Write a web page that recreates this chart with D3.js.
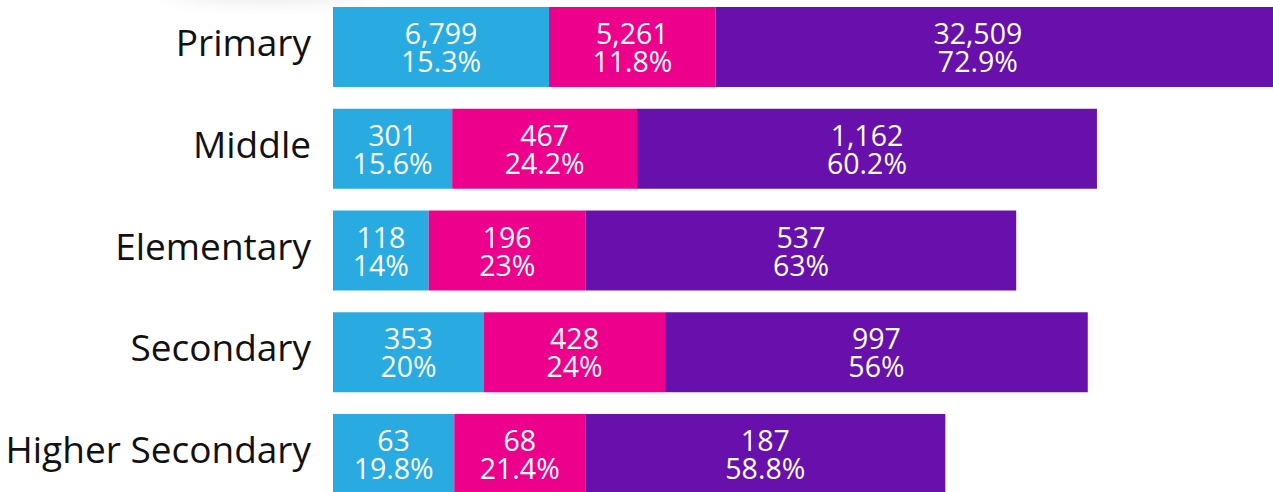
<!DOCTYPE html>
<html>
<head>
<meta charset="utf-8">
<script src="https://cdn.jsdelivr.net/npm/d3@7"></script>
<style>
  html, body { margin: 0; padding: 0; background: #fff; overflow: hidden; }
  svg { display: block; }
  .cat { font-family: "Open Sans", sans-serif; font-size: 37px; fill: #111; }
  .val { font-family: "Open Sans", sans-serif; font-size: 28.5px; fill: #fff; }
</style>
</head>
<body>
<svg id="chart"></svg>
<script>
var categories = ["Primary", "Middle", "Elementary", "Secondary", "Higher Secondary"];
var seriesKeys = ["a", "b", "c"];
var colors = ["#29abe2", "#ec008c", "#6810ab"];

// counts
var valuesA = [6799, 301, 118, 353, 63];
var valuesB = [5261, 467, 196, 428, 68];
var valuesC = [32509, 1162, 537, 997, 187];

// share of row, in %
var pctA = [15.3, 15.6, 14, 20, 19.8];
var pctB = [11.8, 24.2, 23, 24, 21.4];
var pctC = [72.9, 60.2, 63, 56, 58.8];

var width = 1273;
var height = 492;
var left = 333;
var labelEdge = 1240;

var svg = d3.select("#chart").attr("width", width).attr("height", height);

// faint shadow from the card above
var defs = svg.append("defs");
defs.append("filter").attr("id", "blur")
    .attr("x", "-50%").attr("y", "-50%").attr("width", "200%").attr("height", "200%")
    .append("feGaussianBlur").attr("stdDeviation", 12);
svg.append("ellipse")
    .attr("cx", 270).attr("cy", -22).attr("rx", 110).attr("ry", 18)
    .attr("fill", "#000").attr("opacity", 0.14)
    .attr("filter", "url(#blur)");

var rows = categories.map(function(c, i) {
    return {
        cat: c,
        a: pctA[i], b: pctB[i], c: pctC[i],
        counts: [valuesA[i], valuesB[i], valuesC[i]],
        total: valuesA[i] + valuesB[i] + valuesC[i]
    };
});

var stacked = d3.stack().keys(seriesKeys)(rows);

var y = d3.scaleBand()
    .domain(categories)
    .range([7, 494])
    .paddingInner(0.214)
    .paddingOuter(0);

// bar length grows with row total
var len = d3.scalePow().exponent(0.35)
    .domain([0, d3.max(rows, function(d) { return d.total; })])
    .range([440, 1412]);

function xFor(row) {
    return d3.scaleLinear().domain([0, 100]).range([left, left + len(row.total)]);
}

var fmtCount = d3.format(",");
function fmtPct(p) {
    return (Number.isInteger(p) ? p : p.toFixed(1)) + "%";
}

var layer = svg.append("g").selectAll("g")
    .data(stacked)
    .enter().append("g")
    .attr("fill", function(d, i) { return colors[i]; });

layer.selectAll("rect")
    .data(function(d) { return d; })
    .enter().append("rect")
    .attr("x", function(d) { return xFor(d.data)(d[0]); })
    .attr("y", function(d) { return y(d.data.cat); })
    .attr("width", function(d) { var x = xFor(d.data); return x(d[1]) - x(d[0]); })
    .attr("height", y.bandwidth());

var labels = svg.append("g");
stacked.forEach(function(series, si) {
    series.forEach(function(d) {
        var x = xFor(d.data);
        var x0 = x(d[0]), x1 = Math.min(x(d[1]), labelEdge);
        var cx = (x0 + x1) / 2;
        var cy = y(d.data.cat) + y.bandwidth() / 2;
        var t = labels.append("text").attr("class", "val").attr("text-anchor", "middle");
        t.append("tspan").attr("x", cx).attr("y", cy - 3).text(fmtCount(d.data.counts[si]));
        t.append("tspan").attr("x", cx).attr("y", cy + 25).text(fmtPct(d.data[series.key]));
    });
});

svg.append("g").selectAll("text")
    .data(categories)
    .enter().append("text")
    .attr("class", "cat")
    .attr("x", 311)
    .attr("y", function(d) { return y(d) + y.bandwidth() / 2 + 9; })
    .attr("text-anchor", "end")
    .text(function(d) { return d; });
</script>
</body>
</html>
